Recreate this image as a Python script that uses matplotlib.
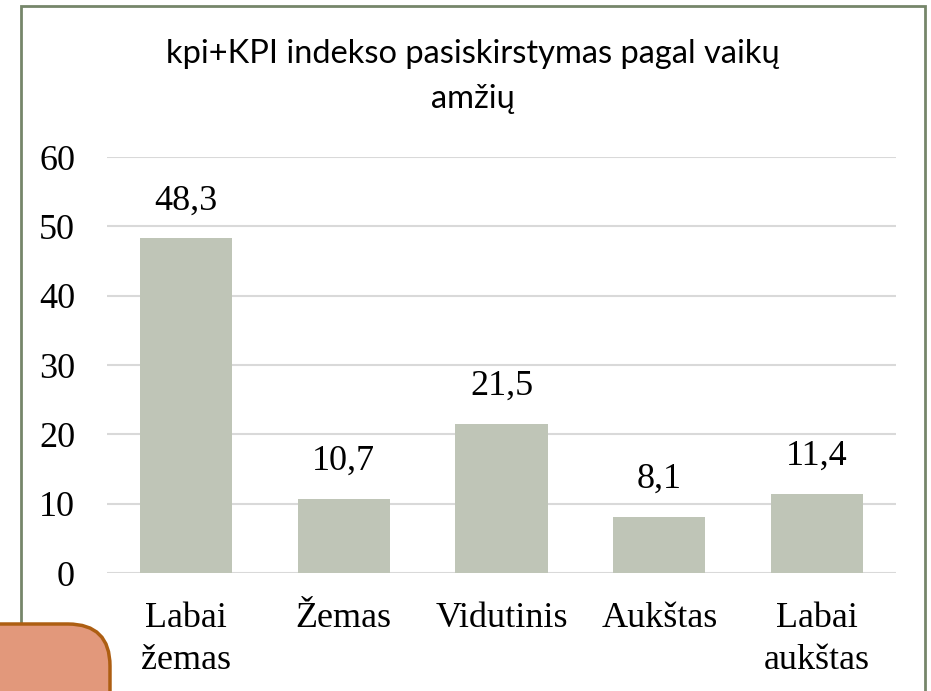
import matplotlib.pyplot as plt
from matplotlib.patches import Rectangle, FancyBboxPatch

categories = ['Labai\nžemas', 'Žemas', 'Vidutinis', 'Aukštas', 'Labai\naukštas']
values = [48.3, 10.7, 21.5, 8.1, 11.4]
value_labels = ['48,3', '10,7', '21,5', '8,1', '11,4']
y_ticks = [0, 10, 20, 30, 40, 50, 60]
title_lines = ['kpi+KPI indekso pasiskirstymas pagal vaikų', 'amžių']

serif = ['Liberation Serif', 'DejaVu Serif']

fig = plt.figure(figsize=(9.31, 6.91), dpi=100)
ax = fig.add_axes([107 / 931, 118 / 691, (896 - 107) / 931, (573 - 157) / 691])

x = range(len(categories))
ax.bar(x, values, width=0.585, color='#BFC5B7', zorder=2)

for xi, v, lab in zip(x, values, value_labels):
    ax.annotate(lab, xy=(xi, v), xytext=(0, 15), textcoords='offset points',
                ha='center', va='bottom', fontsize=26, family=serif)

ax.set_xlim(-0.5, len(categories) - 0.5)
ax.set_ylim(0, 60)
ax.set_yticks(y_ticks)
ax.set_yticklabels([str(t) for t in y_ticks], fontsize=26, family=serif)
ax.set_xticks(list(x))
ax.set_xticklabels(categories, fontsize=26, family=serif, linespacing=1.35)
ax.tick_params(axis='y', length=0, pad=23)
ax.tick_params(axis='x', length=0, pad=21)
ax.grid(axis='y', color='#D9D9D9', linewidth=1.5, zorder=0)
ax.set_axisbelow(True)
for s in ax.spines.values():
    s.set_visible(False)

# title, two lines
for line, y_px in zip(title_lines, [63, 108]):
    fig.text(473 / 931, 1 - y_px / 691, line, ha='center', va='baseline',
             fontsize=23.5, family=['Lato', 'DejaVu Sans'])

# outer chart frame
frame = Rectangle((0.21, -0.5), 9.04, 6.85 + 0.5, transform=fig.dpi_scale_trans,
                  fill=False, edgecolor='#76866A', linewidth=2, zorder=5)
fig.add_artist(frame)

# orange box at lower left, mostly outside the picture
box = FancyBboxPatch((-0.6, -0.8), 1.7, 0.8 + 0.67,
                     boxstyle='round,pad=0,rounding_size=0.42',
                     transform=fig.dpi_scale_trans, facecolor='#E2987B',
                     edgecolor='#AD5E12', linewidth=2.5, zorder=6)
fig.add_artist(box)

fig.savefig('out.png', dpi=100)
